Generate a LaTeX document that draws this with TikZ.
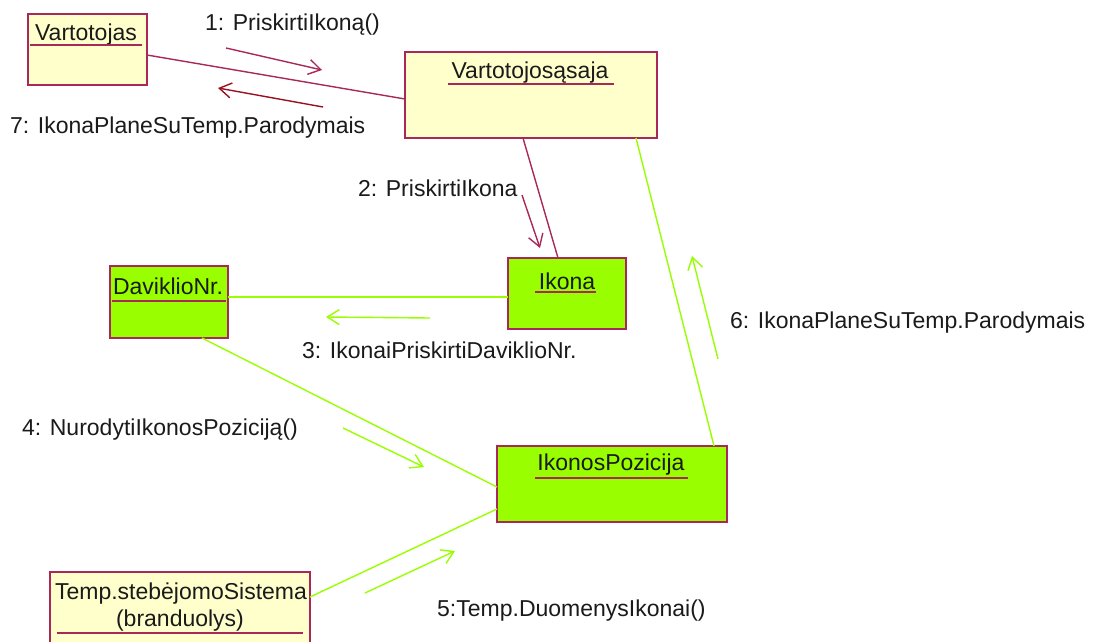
\documentclass[tikz,border=0pt]{standalone}
\usepackage{fontspec}
\setmainfont{Liberation Sans}
\usetikzlibrary{arrows.meta,calc}
\definecolor{linkred}{HTML}{A8285A}
\definecolor{msgdark}{HTML}{9A1020}
\definecolor{cream}{HTML}{FFFFCC}
\definecolor{lime}{HTML}{99FF00}
\definecolor{ink}{HTML}{1A1A1A}
\tikzset{
  objbox/.style={draw=linkred, line width=1.8pt, inner sep=0pt, outer sep=0pt, anchor=north west},
  creambox/.style={objbox, fill=cream},
  limebox/.style={objbox, fill=lime},
  objname/.style={font=\fontsize{23}{27}\selectfont, text=ink, inner sep=0pt},
  uline/.style={draw=linkred, line width=1.6pt},
  redlink/.style={draw=linkred, line width=1.4pt},
  greenlink/.style={draw=lime, line width=1.4pt},
  msg/.style={line width=1.4pt, -{Straight Barb[length=12pt,width=15pt,line width=1.4pt]}},
  msglabel/.style={font=\fontsize{23}{27}\selectfont, text=ink, anchor=west, inner sep=0pt},
}
\begin{document}
\begin{tikzpicture}[x=1pt,y=-1pt]
\useasboundingbox (0,0) rectangle (1095,642);

% object boxes
\node[creambox, minimum width=119pt, minimum height=71pt] (user) at (28,14) {};
\node[creambox, minimum width=252pt, minimum height=86pt] (ui) at (405,52) {};
\node[limebox, minimum width=118pt, minimum height=72pt] (sensor) at (110,266) {};
\node[limebox, minimum width=118pt, minimum height=71pt] (icon) at (508,258) {};
\node[limebox, minimum width=230pt, minimum height=76pt] (pos) at (497,446) {};
\node[creambox, minimum width=260pt, minimum height=90pt] (core) at (50,572) {};

% object names with underlines
\node[objname] (userT) at (86,35) {Vartotojas};
\draw[uline] (30,45) -- (142,45);
\node[objname] (uiT) at (530,73) {Vartotojosąsaja};
\draw[uline] (448,84) -- (614,84);
\node[objname] (sensorT) at (168,286) {DaviklioNr.};
\draw[uline] (112,301) -- (226,301);
\node[objname] (iconT) at (567,281) {Ikona};
\draw[uline] (535,292) -- (596,292);
\node[objname] (posT) at (611,465) {IkonosPozicija};
\draw[uline] (535,478) -- (688,478);
\node[objname] (coreT1) at (181,594) {Temp.stebėjomoSistema};
\node[objname] (coreT2) at (180,621) {(branduolys)};
\draw[uline] (57,633) -- (303,633);

% links between objects
\draw[redlink] ($(user.north east)+(0,41)$) -- ($(ui.north west)+(0,47)$);
\draw[redlink] ($(ui.south west)+(118,0)$) -- ($(icon.north west)+(50,0)$);
\draw[greenlink] ($(icon.north west)+(0,39)$) -- ($(sensor.north east)+(0,31)$);
\draw[greenlink] ($(sensor.south west)+(92,0)$) -- ($(pos.north west)+(0,41)$);
\draw[greenlink] ($(core.north east)+(0,25)$) -- ($(pos.north west)+(0,63)$);
\draw[greenlink] ($(ui.south west)+(231,0)$) -- ($(pos.north west)+(217,0)$);

% message arrows
\coordinate (m1a) at (226,48);  \coordinate (m1b) at (322,70);
\coordinate (m7a) at (323,107); \coordinate (m7b) at (218,88);
\coordinate (m2a) at (522,195); \coordinate (m2b) at (540,248);
\coordinate (m3a) at (430,318); \coordinate (m3b) at (326,317);
\coordinate (m4a) at (343,428); \coordinate (m4b) at (424,467);
\coordinate (m5a) at (365,593); \coordinate (m5b) at (455,551);
\coordinate (m6a) at (718,359); \coordinate (m6b) at (692,256);
\draw[msg, linkred] (m1a) -- (m1b);
\draw[msg, msgdark] (m7a) -- (m7b);
\draw[msg, linkred] (m2a) -- (m2b);
\draw[msg, lime] (m3a) -- (m3b);
\draw[msg, lime] (m4a) -- (m4b);
\draw[msg, lime] (m5a) -- (m5b);
\draw[msg, lime] (m6a) -- (m6b);

% message labels
\node[msglabel] (l1) at (205,25) {1: PriskirtiIkoną()};
\node[msglabel] (l7) at (10,128) {7: IkonaPlaneSuTemp.Parodymais};
\node[msglabel] (l2) at (358,188) {2: PriskirtiIkona};
\node[msglabel] (l3) at (302,350) {3: IkonaiPriskirtiDaviklioNr.};
\node[msglabel] (l4) at (22,430) {4: NurodytiIkonosPoziciją()};
\node[msglabel] (l5) at (437,611) {5:Temp.DuomenysIkonai()};
\node[msglabel] (l6) at (730,323) {6: IkonaPlaneSuTemp.Parodymais};
\end{tikzpicture}
\end{document}
